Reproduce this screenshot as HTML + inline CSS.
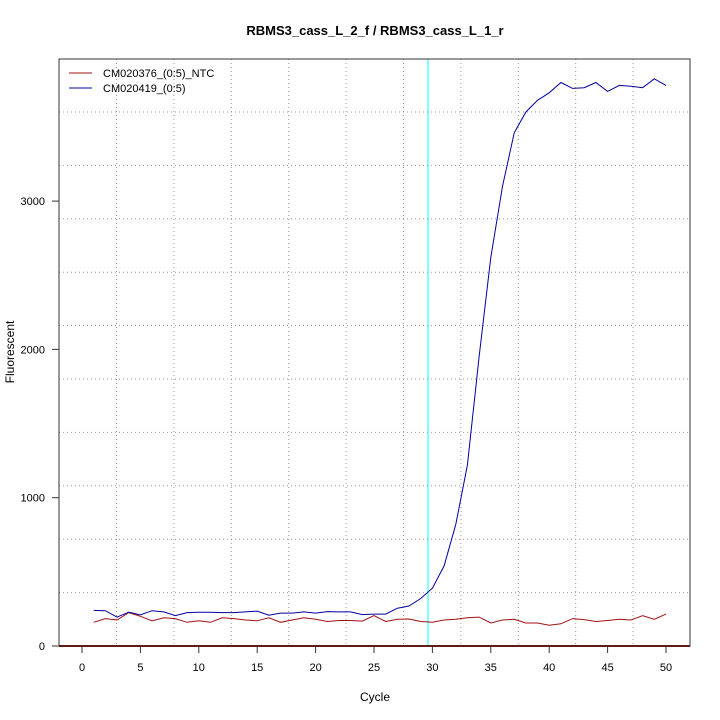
<!DOCTYPE html>
<html><head><meta charset="utf-8"><style>
html,body{margin:0;padding:0;background:#fff;}
svg{display:block;font-family:"Liberation Sans",sans-serif;}
</style></head><body>
<svg id="s" width="720" height="720" viewBox="0 0 720 720" xmlns="http://www.w3.org/2000/svg">
<rect width="720" height="720" fill="#fff"/>
<text x="375" y="35" font-size="13" font-weight="bold" text-anchor="middle">RBMS3_cass_L_2_f / RBMS3_cass_L_1_r</text>
<g id="grid" stroke="#999" stroke-dasharray="1,3" stroke-width="1"></g>
<line x1="428" y1="59" x2="428" y2="646" stroke="#00ffff" stroke-width="1"/>
<polyline id="red" fill="none" stroke="#a01010" stroke-width="1"/>
<polyline id="blue" fill="none" stroke="#0000a0" stroke-width="1"/>
<line x1="59" y1="646" x2="690" y2="646" stroke="#8b0000" stroke-width="2"/>
<rect x="59" y="59" width="631" height="587" fill="none" stroke="#333" stroke-width="1"/>
<g id="ax" font-size="11" fill="#000"></g>
<text x="375" y="701" font-size="12" text-anchor="middle">Cycle</text>
<text transform="translate(14,352) rotate(-90)" font-size="12" text-anchor="middle">Fluorescent</text>
<line x1="69" y1="73" x2="92" y2="73" stroke="#a01010"/>
<line x1="69" y1="88" x2="92" y2="88" stroke="#0000a0"/>
<text x="103" y="77" font-size="11">CM020376_(0:5)_NTC</text>
<text x="103" y="92" font-size="11">CM020419_(0:5)</text>
</svg>
<script>
var ns="http://www.w3.org/2000/svg";
function X(c){return 82+11.68*c;}
function Y(v){return 646-0.1483*v;}
var blue=[240,238,195,228,210,238,230,205,225,228,228,225,225,230,235,208,222,222,230,222,232,230,230,212,215,215,255,270,320,390,540,820,1220,1950,2620,3100,3460,3600,3680,3730,3800,3760,3765,3800,3740,3780,3775,3765,3825,3780];
var red=[160,185,175,225,200,170,190,185,160,170,160,190,185,175,170,190,160,175,190,180,165,172,172,168,205,165,180,182,165,160,175,180,190,195,155,175,180,155,155,140,150,185,178,165,172,180,175,205,180,215];
function pts(a){return a.map(function(v,i){return X(i+1).toFixed(1)+","+Y(v).toFixed(1);}).join(" ");}
document.getElementById("blue").setAttribute("points",pts(blue));
document.getElementById("red").setAttribute("points",pts(red));
var g=document.getElementById("grid");
function L(p,x1,y1,x2,y2,st){var l=document.createElementNS(ns,"line");l.setAttribute("x1",x1);l.setAttribute("y1",y1);l.setAttribute("x2",x2);l.setAttribute("y2",y2);if(st)l.setAttribute("stroke",st);p.appendChild(l);}
for(var i=0;i<10;i++){var x=116.5+57.4*i;L(g,x,59,x,646);}
for(var i=0;i<10;i++){var y=112+53.4*i;L(g,59,y,690,y);}
var ax=document.getElementById("ax");
function T(x,y,s,a){var t=document.createElementNS(ns,"text");t.setAttribute("x",x);t.setAttribute("y",y);t.setAttribute("text-anchor",a);t.textContent=s;ax.appendChild(t);}
for(var c=0;c<=50;c+=5){L(ax,X(c),646,X(c),653,"#333");T(X(c),671,String(c),"middle");}
[0,1000,2000,3000].forEach(function(v){L(ax,52,Y(v),59,Y(v),"#333");T(45,Y(v)+4,String(v),"end");});
</script>
</body></html>
